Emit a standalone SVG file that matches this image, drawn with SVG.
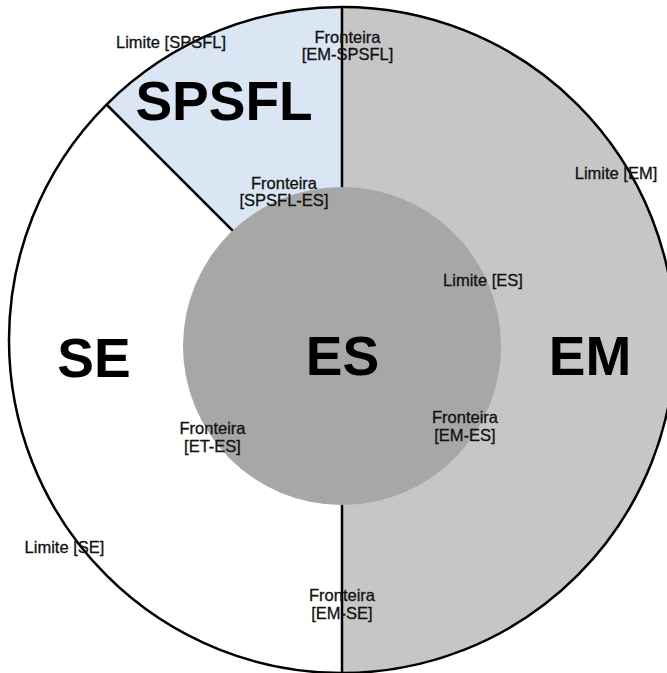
<svg xmlns="http://www.w3.org/2000/svg" width="667" height="673" viewBox="0 0 667 673">
  <style>
    .big { font-family: "Liberation Sans", Arial, sans-serif; font-weight: bold; font-size: 55px; fill: #000; text-anchor: middle; }
    .lbl { font-family: "Liberation Sans", Arial, sans-serif; font-size: 16.5px; fill: #111; stroke: #111; stroke-width: 0.3; text-anchor: middle; }
    .edge { fill: none; stroke: #000; stroke-width: 2.5; }
  </style>
  <rect width="667" height="673" fill="#fff"/>

  <!-- SE: left half of the outer disc -->
  <g id="SE">
    <circle cx="342" cy="340" r="333" fill="#fff"/>
    <text class="big" x="94" y="377">SE</text>
  </g>

  <!-- EM: right half -->
  <g id="EM">
    <path d="M342,7 A333,333 0 0 1 342,673 Z" fill="#c6c6c6"/>
    <text class="big" x="590" y="375">EM</text>
  </g>

  <!-- SPSFL: 45 degree sector at top left -->
  <g id="SPSFL">
    <path d="M342,340 L106.5,104.5 A333,333 0 0 1 342,7 Z" fill="#dae6f3"/>
    <text class="big" x="224" y="120">SPSFL</text>
  </g>

  <!-- boundary lines -->
  <g id="connectors">
    <circle class="edge" cx="342" cy="340" r="333"/>
    <line class="edge" x1="342" y1="7" x2="342" y2="673"/>
    <line class="edge" x1="106.5" y1="104.5" x2="342" y2="340"/>
  </g>

  <!-- ES: inner disc -->
  <g id="ES">
    <circle cx="342" cy="346" r="159" fill="#a7a7a7"/>
    <text class="big" x="342.5" y="375">ES</text>
  </g>

  <!-- boundary labels -->
  <g id="labels">
    <text class="lbl" x="171" y="48">Limite [SPSFL]</text>
    <text class="lbl" x="347.5" y="43">Fronteira</text>
    <text class="lbl" x="347.5" y="60">[EM-SPSFL]</text>
    <text class="lbl" x="616" y="179">Limite [EM]</text>
    <text class="lbl" x="284" y="189">Fronteira</text>
    <text class="lbl" x="284" y="206">[SPSFL-ES]</text>
    <text class="lbl" x="483" y="286">Limite [ES]</text>
    <text class="lbl" x="465" y="423">Fronteira</text>
    <text class="lbl" x="465" y="441">[EM-ES]</text>
    <text class="lbl" x="212.5" y="434">Fronteira</text>
    <text class="lbl" x="212.5" y="452">[ET-ES]</text>
    <text class="lbl" x="64.5" y="553">Limite [SE]</text>
    <text class="lbl" x="342" y="601">Fronteira</text>
    <text class="lbl" x="342" y="619">[EM-SE]</text>
  </g>
</svg>
